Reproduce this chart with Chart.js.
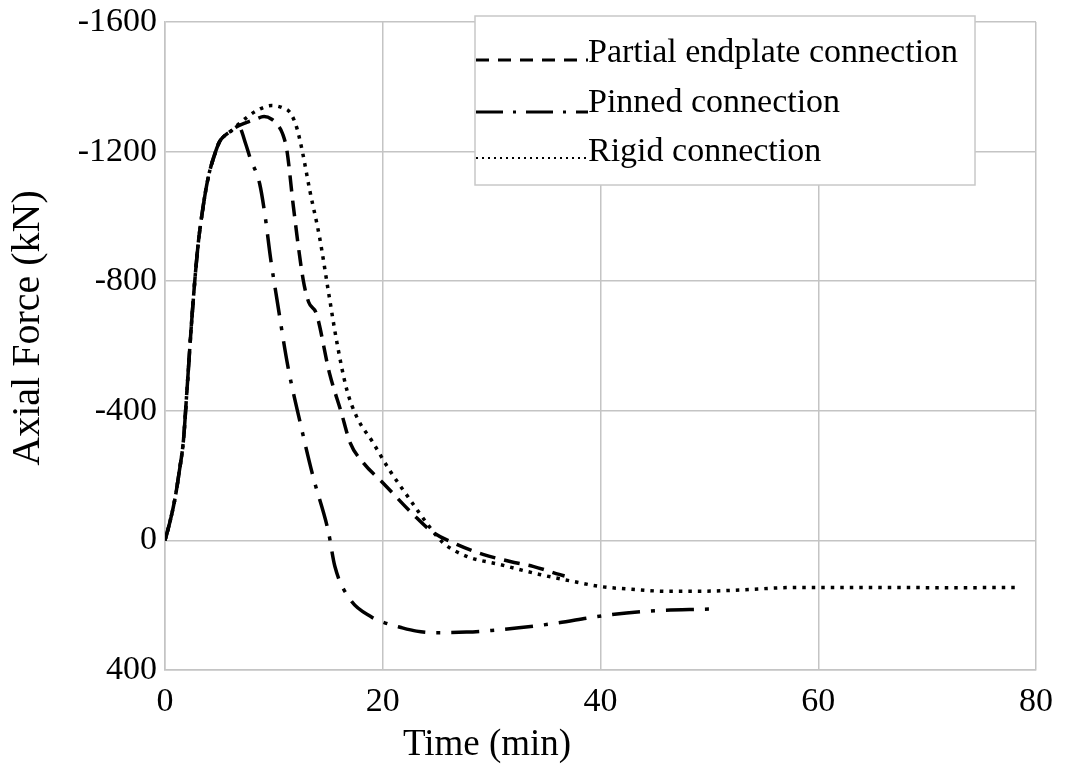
<!DOCTYPE html>
<html>
<head>
<meta charset="utf-8">
<script src="https://cdn.jsdelivr.net/npm/chart.js@4"></script>
<style>
  html, body { margin: 0; padding: 0; background: #fff; }
  #wrap { width: 1066px; height: 769px; position: relative; }
</style>
</head>
<body>
<div id="wrap"><canvas id="chart"></canvas></div>
<script>
// series: time (min) and axial force (kN)
const partialT = [0, 0.4, 0.9, 1.3, 1.7, 2, 2.5, 3, 3.5, 4, 4.5, 5, 5.5, 6, 6.5, 7.5, 8.3, 9.1, 9.8, 10.4, 10.8, 11.2, 11.8, 12.7, 13.2, 13.9, 15.1, 16.2, 17.0, 18.2, 20.0, 22.8, 24.6, 26.8, 29.2, 31.7, 33.8, 36.2, 36.7];
const partialF = [0, -50, -126, -210, -311, -455, -700, -900, -1030, -1125, -1185, -1230, -1250, -1262, -1275, -1290, -1300, -1308, -1300, -1280, -1255, -1203, -1028, -803, -735, -700, -517, -394, -302, -240, -178, -80, -25, 12, 43, 65, 80, 105, 110];

const pinnedT = [0, 0.4, 0.9, 1.3, 1.7, 2, 2.5, 3, 3.5, 4, 4.5, 5, 5.5, 6, 6.8, 7.4, 7.8, 8.7, 9.2, 9.7, 10.3, 11.3, 12.4, 13.6, 15.0, 15.6, 17.0, 19.0, 20.0, 21.6, 23.1, 25.0, 27.7, 30.0, 33.8, 36.0, 39.9, 44.5, 50.0];
const pinnedF = [0, -50, -126, -210, -311, -455, -700, -900, -1030, -1125, -1185, -1230, -1250, -1262, -1275, -1225, -1182, -1100, -1000, -870, -740, -535, -366, -197, -28, 80, 182, 237, 252, 268, 280, 285, 283, 278, 265, 255, 234, 218, 212];

const rigidT = [0, 0.4, 0.9, 1.3, 1.7, 2, 2.5, 3, 3.5, 4, 4.5, 5, 5.5, 6, 6.9, 8.4, 9.8, 10.8, 11.5, 12.1, 12.6, 13.3, 14.2, 15.0, 15.8, 16.7, 17.6, 19.1, 20.6, 22.5, 24.0, 25.5, 27.7, 30.7, 34.4, 37.4, 39.9, 42.9, 46.1, 49.1, 52.1, 58.3, 65, 72, 78.6];
const rigidF = [0, -50, -126, -210, -311, -455, -700, -900, -1030, -1125, -1185, -1230, -1250, -1262, -1289, -1326, -1342, -1335, -1320, -1274, -1203, -1080, -935, -770, -609, -465, -382, -302, -218, -126, -55, 6, 49, 74, 105, 126, 142, 151, 157, 157, 154, 145, 145, 146, 145];

const seriesNames = ['Partial endplate connection', 'Pinned connection', 'Rigid connection'];
const xTicks = [0, 20, 40, 60, 80];
const yTicks = [-1600, -1200, -800, -400, 0, 400];
const xTitle = 'Time (min)';
const yTitle = 'Axial Force (kN)';

const FONT = "'Liberation Serif', 'Times New Roman', serif";
const GRID = '#c4c4c4';

const pts = (ts, fs) => ts.map((t, i) => ({ x: t, y: fs[i] }));

// legend sample dashes differ a little from the plotted ones
const legendStyles = [
    { dash: [13, 9], width: 3 },
    { dash: [27, 10, 3, 10], width: 3 },
    { dash: [2, 4], width: 2 }
];

// boxed legend over the top right of the plot, and the two axis titles
// (the x title in the picture sits left of the plot centre)
const boxLegend = {
    id: 'box-legend',
    afterDraw(chart) {
        const { ctx } = chart;
        const x0 = 475, y0 = 16, x1 = 975, y1 = 185;
        ctx.save();
        ctx.fillStyle = '#fff';
        ctx.fillRect(x0, y0, x1 - x0, y1 - y0);
        ctx.strokeStyle = '#c8c8c8';
        ctx.lineWidth = 1.5;
        ctx.strokeRect(x0, y0, x1 - x0, y1 - y0);
        const lineY = [60, 112, 158];
        const textY = [62, 112, 161];
        chart.data.datasets.forEach((ds, i) => {
            const st = legendStyles[i];
            ctx.beginPath();
            ctx.setLineDash(st.dash);
            ctx.lineWidth = st.width;
            ctx.strokeStyle = '#000';
            ctx.moveTo(x0 + 1, lineY[i]);
            ctx.lineTo(588, lineY[i]);
            ctx.stroke();
            ctx.setLineDash([]);
            ctx.fillStyle = '#000';
            ctx.font = `34px ${FONT}`;
            ctx.textBaseline = 'alphabetic';
            ctx.textAlign = 'left';
            ctx.fillText(ds.label, 588, textY[i]);
        });

        ctx.fillStyle = '#000';
        ctx.textAlign = 'center';
        ctx.textBaseline = 'middle';
        ctx.font = `37px ${FONT}`;
        ctx.fillText(xTitle, 487, 745);
        ctx.translate(28, 328);
        ctx.rotate(-Math.PI / 2);
        ctx.font = `40px ${FONT}`;
        ctx.fillText(yTitle, 0, 0);
        ctx.restore();
    }
};

new Chart(document.getElementById('chart'), {
    type: 'line',
    data: {
        datasets: [
            { label: seriesNames[0], data: pts(partialT, partialF), borderDash: [16, 9] },
            { label: seriesNames[1], data: pts(pinnedT, pinnedF), borderDash: [28, 11, 4, 11] },
            { label: seriesNames[2], data: pts(rigidT, rigidF), borderDash: [3.5, 6] }
        ].map(d => Object.assign(d, {
            borderColor: '#000',
            borderWidth: 3.5,
            pointRadius: 0,
            fill: false,
            cubicInterpolationMode: 'monotone'
        }))
    },
    options: {
        responsive: true,
        maintainAspectRatio: false,
        animation: false,
        layout: { autoPadding: false, padding: { top: 0, right: 30, left: 0, bottom: 0 } },
        plugins: {
            legend: { display: false },
            tooltip: { enabled: false }
        },
        scales: {
            x: {
                type: 'linear',
                min: 0, max: 80,
                afterBuildTicks: s => { s.ticks = xTicks.map(v => ({ value: v })); },
                afterFit: s => { s.height = 99; },
                grid: { color: GRID, lineWidth: 1.5, drawTicks: false },
                border: { color: GRID, width: 1.5 },
                ticks: { color: '#000', padding: 12, maxRotation: 0, font: { size: 34, family: FONT }, callback: v => String(v) }
            },
            y: {
                type: 'linear',
                reverse: true,
                min: -1600, max: 400,
                afterBuildTicks: s => { s.ticks = yTicks.map(v => ({ value: v })); },
                // plot top sits at y=22 in the picture
                afterFit: s => { s.width = 165; s.paddingTop = 22; s.paddingBottom = 0; },
                grid: { color: GRID, lineWidth: 1.5, drawTicks: false },
                border: { color: GRID, width: 1.5 },
                ticks: { color: '#000', padding: 8, font: { size: 34, family: FONT }, callback: v => String(v) }
            }
        }
    },
    plugins: [boxLegend]
});
</script>
</body>
</html>
